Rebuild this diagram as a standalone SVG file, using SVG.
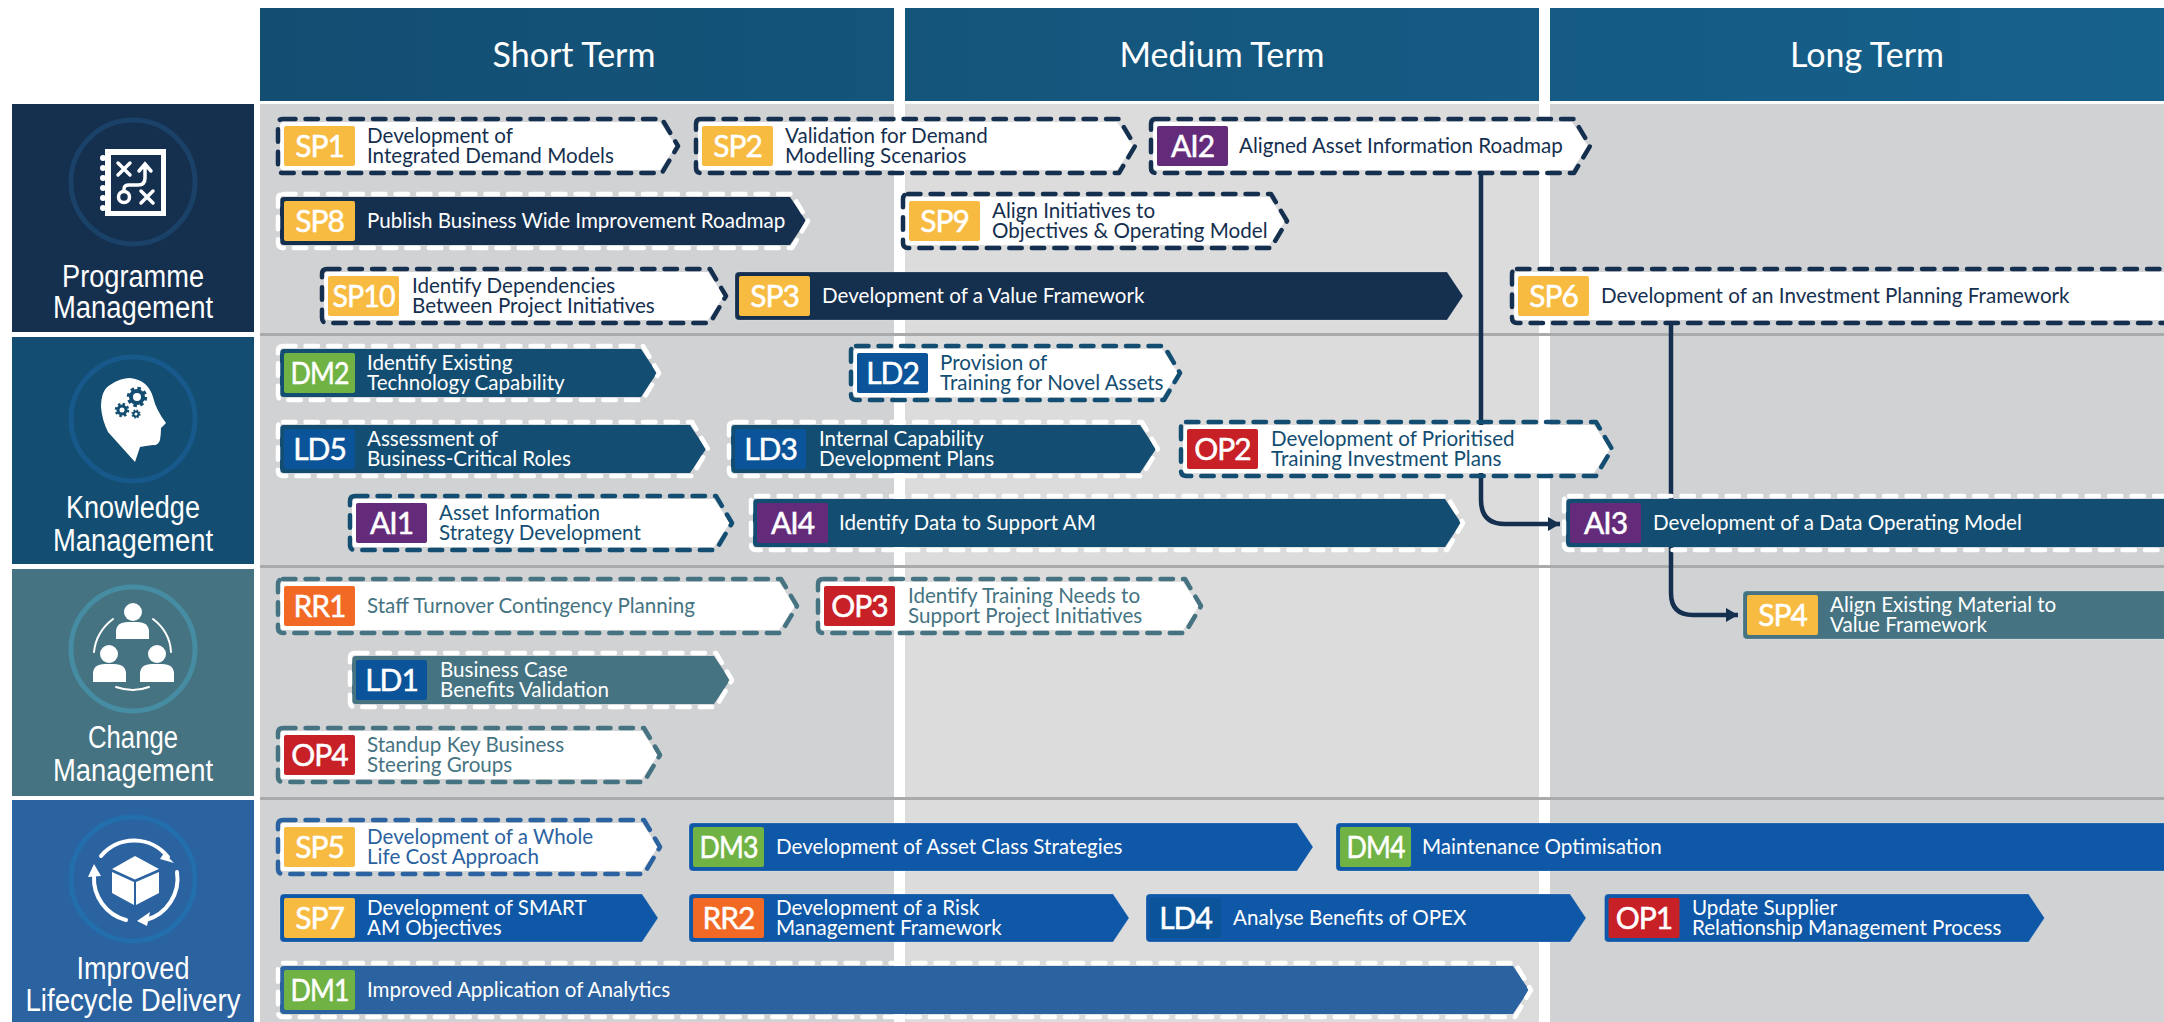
<svg xmlns="http://www.w3.org/2000/svg" width="2164" height="1022" viewBox="0 0 2164 1022">
<style>
text{font-family:Lato,"Open Sans","Liberation Sans",sans-serif}
.hd{fill:#fff;font-size:34px;text-anchor:middle}
.pl{fill:#fff;font-family:"Liberation Sans",Arial,sans-serif;font-size:31px;text-anchor:middle}
.bt{fill:#fff;font-size:30px;text-anchor:middle;letter-spacing:-1px;stroke:#fff;stroke-width:.5}
.lb{font-size:20.6px}
.w{fill:#fff}
.ring{fill:none;stroke-width:5}
.dash{fill:none;stroke-width:4.5;stroke-dasharray:12.5 10;stroke-linecap:round;stroke-linejoin:round}
.edge{stroke:#fff;stroke-opacity:.18;stroke-width:1}
.sp{fill:#f7bb41}.dm{fill:#70b244}.ld{fill:#0c5499}.ai{fill:#652b7b}.op{fill:#c82027}.rr{fill:#f26825}
.f1{fill:#152f4f}.f2{fill:#134e72}.f3{fill:#457382}.f4{fill:#2b62a0}.f5{fill:#0f58a8}
.s1{stroke:#152f4f}.s2{stroke:#134e72}.s3{stroke:#457382}.s4{stroke:#2b62a0}.sw{stroke:#fff}
.conn{fill:none;stroke:#152f4f;stroke-width:4.5;marker-end:url(#ah)}
.ln{fill:none;stroke:#fff;stroke-linecap:round}
</style>
<defs>
<marker id="ah" markerUnits="userSpaceOnUse" markerWidth="14" markerHeight="16" refX="13" refY="8" orient="auto"><path d="M1 1L13 8L1 15Z" fill="#152f4f"/></marker>
<linearGradient id="hg" gradientUnits="userSpaceOnUse" x1="260" y1="0" x2="2164" y2="0"><stop offset="0" stop-color="#134e72"/><stop offset="1" stop-color="#16618c"/></linearGradient>
</defs>
<rect width="2164" height="1022" fill="#fff"/>
<g id="grid">
<rect x="260" y="104" width="634" height="918" fill="#d1d2d4"/>
<rect x="905" y="104" width="634" height="918" fill="#dcdcdc"/>
<rect x="1550" y="104" width="614" height="918" fill="#d1d2d4"/>
<rect x="260" y="333" width="1904" height="3" fill="#a9aaac"/>
<rect x="260" y="565" width="1904" height="3" fill="#a9aaac"/>
<rect x="260" y="797" width="1904" height="3" fill="#a9aaac"/>
</g>
<g id="header-short"><rect x="260" y="8" width="634" height="93" fill="url(#hg)"/><text class="hd" x="574" y="67">Short Term</text></g>
<g id="header-medium"><rect x="905" y="8" width="634" height="93" fill="url(#hg)"/><text class="hd" x="1222" y="67">Medium Term</text></g>
<g id="header-long"><rect x="1550" y="8" width="614" height="93" fill="url(#hg)"/><text class="hd" x="1867" y="67">Long Term</text></g>

<g id="lane-programme">
<rect class="f1" x="12" y="104" width="242" height="228"/>
<circle class="ring" cx="133" cy="182" r="62" stroke="#1a4268"/>
<rect class="w" x="105" y="149" width="61" height="67"/><rect class="f1" x="111" y="155" width="50" height="56"/>
<g class="w"><circle cx="103" cy="158" r="3"/><circle cx="103" cy="168" r="3"/><circle cx="103" cy="178" r="3"/><circle cx="103" cy="188" r="3"/><circle cx="103" cy="198" r="3"/><circle cx="103" cy="208" r="3"/></g>
<path class="ln" stroke-width="3.5" d="M118 163L130 175M130 163L118 175M141 191L153 203M153 191L141 203"/>
<circle cx="124" cy="197" r="5.5" fill="none" stroke="#fff" stroke-width="3.5"/>
<path class="ln" stroke-width="3.5" d="M124 191V189Q124 185 129 185H138Q145 185 145 178V165M139 171L145 164L151 171"/>
<text class="pl" x="133" y="287" textLength="142" lengthAdjust="spacingAndGlyphs">Programme</text><text class="pl" x="133" y="318" textLength="160" lengthAdjust="spacingAndGlyphs">Management</text>
</g>
<g id="lane-knowledge">
<rect class="f2" x="12" y="337" width="242" height="227"/>
<circle class="ring" cx="133" cy="419" r="62" stroke="#17598a"/>
<path class="w" d="M135 462L108 432Q102 420 101 407Q101 390 110 385Q120 378 130 378Q148 380 153 397Q156 410 166 423L161 428Q161 434 160 440Q158 446 153 445Q145 446 140 447Z"/>
<g fill="none" stroke="#134e72">
<circle cx="137" cy="397" r="6" stroke-width="4"/><circle cx="137" cy="397" r="8.5" stroke-width="3.5" stroke-dasharray="3.4 3.3"/>
<circle cx="122" cy="410" r="4" stroke-width="3"/><circle cx="122" cy="410" r="6" stroke-width="2.5" stroke-dasharray="2.4 2.3"/>
<circle cx="136" cy="414" r="2.5" stroke-width="2"/><circle cx="136" cy="414" r="3.8" stroke-width="1.6" stroke-dasharray="1.5 1.5"/>
</g>
<text class="pl" x="133" y="518" textLength="134" lengthAdjust="spacingAndGlyphs">Knowledge</text><text class="pl" x="133" y="551" textLength="160" lengthAdjust="spacingAndGlyphs">Management</text>
</g>
<g id="lane-change">
<rect class="f3" x="12" y="569" width="242" height="227"/>
<circle class="ring" cx="133" cy="649" r="62" stroke="#468ca3"/>
<g class="w">
<circle cx="133" cy="612" r="9"/><path d="M116 639V632Q116 622 128 622H137Q149 622 149 632V639Z"/>
<circle cx="109" cy="654" r="9"/><path d="M93 682V674Q93 664 105 664H114Q126 664 126 674V682Z"/>
<circle cx="157" cy="654" r="9"/><path d="M140 682V674Q140 664 152 664H162Q174 664 174 674V682Z"/>
</g>
<path class="ln" stroke-width="2" d="M113 619Q96 632 94 652M153 619Q170 632 171 652M116 687Q133 693 149 687"/>
<text class="pl" x="133" y="748" textLength="90" lengthAdjust="spacingAndGlyphs">Change</text><text class="pl" x="133" y="781" textLength="160" lengthAdjust="spacingAndGlyphs">Management</text>
</g>
<g id="lane-lifecycle">
<rect class="f4" x="12" y="800" width="242" height="222"/>
<circle class="ring" cx="133" cy="879" r="62" stroke="#236ead"/>
<g class="w">
<path d="M135 856L159 869L135 879.5L112 869Z"/><path d="M112 872L134 882V905L112 893Z"/><path d="M159 872L136 882V905L159 893Z"/>
<path d="M164 853L174 863L160 859Z"/><path d="M137 921L150 912L147 926Z"/><path d="M94 864L88 877L101 876Z"/>
</g>
<path class="ln" stroke-width="4" d="M101 856A43 43 0 0 1 168 857M177 872A43 43 0 0 1 146 920M126 920A43 43 0 0 1 94 876"/>
<text class="pl" x="133" y="979" textLength="113" lengthAdjust="spacingAndGlyphs">Improved</text><text class="pl" x="133" y="1011" textLength="215" lengthAdjust="spacingAndGlyphs">Lifecycle Delivery</text>
</g>

<g id="connectors">
<path class="conn" d="M1481 172V500Q1481 524 1505 524H1560"/>
<path class="conn" d="M1671 322V593Q1671 615 1693 615H1738"/>
</g>

<g id="SP1" transform="translate(284 146)"><path class="w" d="M0-24H376L392 0L376 24H0Q-4 24-4 20V-20Q-4-24 0-24Z"/><path class="dash s1" d="M-1-27H378L394 0L378 27H-1Q-6 27-6 22V-22Q-6-27-1-27Z"/><rect class="sp" width="71" height="40" y="-20" rx="2"/><text class="bt" x="35.5" y="11">SP1</text><text class="lb f1" x="83" y="-3">Development of</text><text class="lb f1" x="83" y="17">Integrated Demand Models</text></g>
<g id="SP2" transform="translate(702 146)"><path class="w" d="M0-24H415L431 0L415 24H0Q-4 24-4 20V-20Q-4-24 0-24Z"/><path class="dash s1" d="M-1-27H417L433 0L417 27H-1Q-6 27-6 22V-22Q-6-27-1-27Z"/><rect class="sp" width="71" height="40" y="-20" rx="2"/><text class="bt" x="35.5" y="11">SP2</text><text class="lb f1" x="83" y="-3">Validation for Demand</text><text class="lb f1" x="83" y="17">Modelling Scenarios</text></g>
<g id="AI2" transform="translate(1157 146)"><path class="w" d="M0-24H415L431 0L415 24H0Q-4 24-4 20V-20Q-4-24 0-24Z"/><path class="dash s1" d="M-1-27H417L433 0L417 27H-1Q-6 27-6 22V-22Q-6-27-1-27Z"/><rect class="ai" width="71" height="40" y="-20" rx="2"/><text class="bt" x="35.5" y="11">AI2</text><text class="lb f1" x="82" y="7">Aligned Asset Information Roadmap</text></g>
<g id="SP8" transform="translate(284 221)"><path class="f1" d="M0-24H506L522 0L506 24H0Q-4 24-4 20V-20Q-4-24 0-24Z"/><path class="dash sw" d="M-1-27H508L524 0L508 27H-1Q-6 27-6 22V-22Q-6-27-1-27Z"/><rect class="sp" width="71" height="40" y="-20" rx="2"/><text class="bt" x="35.5" y="11">SP8</text><text class="lb w" x="83" y="7">Publish Business Wide Improvement Roadmap</text></g>
<g id="SP9" transform="translate(909 221)"><path class="w" d="M0-24H360L376 0L360 24H0Q-4 24-4 20V-20Q-4-24 0-24Z"/><path class="dash s1" d="M-1-27H362L378 0L362 27H-1Q-6 27-6 22V-22Q-6-27-1-27Z"/><rect class="sp" width="71" height="40" y="-20" rx="2"/><text class="bt" x="35.5" y="11">SP9</text><text class="lb f1" x="83" y="-3">Align Initiatives to</text><text class="lb f1" x="83" y="17">Objectives &amp; Operating Model</text></g>
<g id="SP10" transform="translate(328 296)"><path class="w" d="M0-24H380L396 0L380 24H0Q-4 24-4 20V-20Q-4-24 0-24Z"/><path class="dash s1" d="M-1-27H382L398 0L382 27H-1Q-6 27-6 22V-22Q-6-27-1-27Z"/><rect class="sp" width="71" height="40" y="-20" rx="2"/><text class="bt" x="35.5" y="11" textLength="62" lengthAdjust="spacingAndGlyphs">SP10</text><text class="lb f1" x="84" y="-3">Identify Dependencies</text><text class="lb f1" x="84" y="17">Between Project Initiatives</text></g>
<g id="SP3" transform="translate(739 296)"><path class="f1 edge" d="M0-24H708L724 0L708 24H0Q-4 24-4 20V-20Q-4-24 0-24Z"/><rect class="sp" width="71" height="40" y="-20" rx="2"/><text class="bt" x="35.5" y="11">SP3</text><text class="lb w" x="83" y="7">Development of a Value Framework</text></g>
<g id="SP6" transform="translate(1518 296)"><path class="w" d="M0-24H700V24H0Q-4 24-4 20V-20Q-4-24 0-24Z"/><path class="dash s1" d="M-1-27H700M700 27H-1Q-6 27-6 22V-22Q-6-27-1-27"/><rect class="sp" width="71" height="40" y="-20" rx="2"/><text class="bt" x="35.5" y="11">SP6</text><text class="lb f1" x="83" y="7">Development of an Investment Planning Framework</text></g>

<g id="DM2" transform="translate(284 373)"><path class="f2" d="M0-24H357L373 0L357 24H0Q-4 24-4 20V-20Q-4-24 0-24Z"/><path class="dash sw" d="M-1-27H359L375 0L359 27H-1Q-6 27-6 22V-22Q-6-27-1-27Z"/><rect class="dm" width="71" height="40" y="-20" rx="2"/><text class="bt" x="35.5" y="11" textLength="58" lengthAdjust="spacingAndGlyphs">DM2</text><text class="lb w" x="83" y="-3">Identify Existing</text><text class="lb w" x="83" y="17">Technology Capability</text></g>
<g id="LD2" transform="translate(857 373)"><path class="w" d="M0-24H305L321 0L305 24H0Q-4 24-4 20V-20Q-4-24 0-24Z"/><path class="dash s2" d="M-1-27H307L323 0L307 27H-1Q-6 27-6 22V-22Q-6-27-1-27Z"/><rect class="ld" width="71" height="40" y="-20" rx="2"/><text class="bt" x="35.5" y="11">LD2</text><text class="lb f2" x="83" y="-3">Provision of</text><text class="lb f2" x="83" y="17">Training for Novel Assets</text></g>
<g id="LD5" transform="translate(284 449)"><path class="f2" d="M0-24H406L422 0L406 24H0Q-4 24-4 20V-20Q-4-24 0-24Z"/><path class="dash sw" d="M-1-27H408L424 0L408 27H-1Q-6 27-6 22V-22Q-6-27-1-27Z"/><rect class="ld" width="71" height="40" y="-20" rx="2"/><text class="bt" x="35.5" y="11">LD5</text><text class="lb w" x="83" y="-3">Assessment of</text><text class="lb w" x="83" y="17">Business-Critical Roles</text></g>
<g id="LD3" transform="translate(735 449)"><path class="f2" d="M0-24H405L421 0L405 24H0Q-4 24-4 20V-20Q-4-24 0-24Z"/><path class="dash sw" d="M-1-27H407L423 0L407 27H-1Q-6 27-6 22V-22Q-6-27-1-27Z"/><rect class="ld" width="71" height="40" y="-20" rx="2"/><text class="bt" x="35.5" y="11">LD3</text><text class="lb w" x="84" y="-3">Internal Capability</text><text class="lb w" x="84" y="17">Development Plans</text></g>
<g id="OP2" transform="translate(1187 449)"><path class="w" d="M0-24H407L423 0L407 24H0Q-4 24-4 20V-20Q-4-24 0-24Z"/><path class="dash s2" d="M-1-27H409L425 0L409 27H-1Q-6 27-6 22V-22Q-6-27-1-27Z"/><rect class="op" width="71" height="40" y="-20" rx="2"/><text class="bt" x="35.5" y="11">OP2</text><text class="lb f2" x="84" y="-3">Development of Prioritised</text><text class="lb f2" x="84" y="17">Training Investment Plans</text></g>
<g id="AI1" transform="translate(356 523)"><path class="w" d="M0-24H358L374 0L358 24H0Q-4 24-4 20V-20Q-4-24 0-24Z"/><path class="dash s2" d="M-1-27H360L376 0L360 27H-1Q-6 27-6 22V-22Q-6-27-1-27Z"/><rect class="ai" width="71" height="40" y="-20" rx="2"/><text class="bt" x="35.5" y="11">AI1</text><text class="lb f2" x="83" y="-3">Asset Information</text><text class="lb f2" x="83" y="17">Strategy Development</text></g>
<g id="AI4" transform="translate(757 523)"><path class="f2" d="M0-24H688L704 0L688 24H0Q-4 24-4 20V-20Q-4-24 0-24Z"/><path class="dash sw" d="M-1-27H690L706 0L690 27H-1Q-6 27-6 22V-22Q-6-27-1-27Z"/><rect class="ai" width="71" height="40" y="-20" rx="2"/><text class="bt" x="35.5" y="11">AI4</text><text class="lb w" x="82" y="7">Identify Data to Support AM</text></g>
<g id="AI3" transform="translate(1570 523)"><path class="f2" d="M0-24H700V24H0Q-4 24-4 20V-20Q-4-24 0-24Z"/><path class="dash sw" d="M-1-27H700M700 27H-1Q-6 27-6 22V-22Q-6-27-1-27"/><rect class="ai" width="71" height="40" y="-20" rx="2"/><text class="bt" x="35.5" y="11">AI3</text><text class="lb w" x="83" y="7">Development of a Data Operating Model</text></g>

<g id="RR1" transform="translate(284 606)"><path class="w" d="M0-24H495L511 0L495 24H0Q-4 24-4 20V-20Q-4-24 0-24Z"/><path class="dash s3" d="M-1-27H497L513 0L497 27H-1Q-6 27-6 22V-22Q-6-27-1-27Z"/><rect class="rr" width="71" height="40" y="-20" rx="2"/><text class="bt" x="35.5" y="11">RR1</text><text class="lb f3" x="83" y="7">Staff Turnover Contingency Planning</text></g>
<g id="OP3" transform="translate(824 606)"><path class="w" d="M0-24H359L375 0L359 24H0Q-4 24-4 20V-20Q-4-24 0-24Z"/><path class="dash s3" d="M-1-27H361L377 0L361 27H-1Q-6 27-6 22V-22Q-6-27-1-27Z"/><rect class="op" width="71" height="40" y="-20" rx="2"/><text class="bt" x="35.5" y="11">OP3</text><text class="lb f3" x="84" y="-3">Identify Training Needs to</text><text class="lb f3" x="84" y="17">Support Project Initiatives</text></g>
<g id="SP4" transform="translate(1747 615)"><path class="f3 edge" d="M0-24H500V24H0Q-4 24-4 20V-20Q-4-24 0-24Z"/><rect class="sp" width="71" height="40" y="-20" rx="2"/><text class="bt" x="35.5" y="11">SP4</text><text class="lb w" x="83" y="-3">Align Existing Material to</text><text class="lb w" x="83" y="17">Value Framework</text></g>
<g id="LD1" transform="translate(356 680)"><path class="f3" d="M0-24H358L374 0L358 24H0Q-4 24-4 20V-20Q-4-24 0-24Z"/><path class="dash sw" d="M-1-27H360L376 0L360 27H-1Q-6 27-6 22V-22Q-6-27-1-27Z"/><rect class="ld" width="71" height="40" y="-20" rx="2"/><text class="bt" x="35.5" y="11">LD1</text><text class="lb w" x="84" y="-3">Business Case</text><text class="lb w" x="84" y="17">Benefits Validation</text></g>
<g id="OP4" transform="translate(284 755)"><path class="w" d="M0-24H358L374 0L358 24H0Q-4 24-4 20V-20Q-4-24 0-24Z"/><path class="dash s3" d="M-1-27H360L376 0L360 27H-1Q-6 27-6 22V-22Q-6-27-1-27Z"/><rect class="op" width="71" height="40" y="-20" rx="2"/><text class="bt" x="35.5" y="11">OP4</text><text class="lb f3" x="83" y="-3">Standup Key Business</text><text class="lb f3" x="83" y="17">Steering Groups</text></g>

<g id="SP5" transform="translate(284 847)"><path class="w" d="M0-24H358L374 0L358 24H0Q-4 24-4 20V-20Q-4-24 0-24Z"/><path class="dash s4" d="M-1-27H360L376 0L360 27H-1Q-6 27-6 22V-22Q-6-27-1-27Z"/><rect class="sp" width="71" height="40" y="-20" rx="2"/><text class="bt" x="35.5" y="11">SP5</text><text class="lb f4" x="83" y="-3">Development of a Whole</text><text class="lb f4" x="83" y="17">Life Cost Approach</text></g>
<g id="DM3" transform="translate(693 847)"><path class="f5 edge" d="M0-24H604L620 0L604 24H0Q-4 24-4 20V-20Q-4-24 0-24Z"/><rect class="dm" width="71" height="40" y="-20" rx="2"/><text class="bt" x="35.5" y="11" textLength="58" lengthAdjust="spacingAndGlyphs">DM3</text><text class="lb w" x="83" y="7">Development of Asset Class Strategies</text></g>
<g id="DM4" transform="translate(1340 847)"><path class="f5 edge" d="M0-24H900V24H0Q-4 24-4 20V-20Q-4-24 0-24Z"/><rect class="dm" width="71" height="40" y="-20" rx="2"/><text class="bt" x="35.5" y="11" textLength="58" lengthAdjust="spacingAndGlyphs">DM4</text><text class="lb w" x="82" y="7">Maintenance Optimisation</text></g>
<g id="SP7" transform="translate(284 918)"><path class="f5 edge" d="M0-24H358L374 0L358 24H0Q-4 24-4 20V-20Q-4-24 0-24Z"/><rect class="sp" width="71" height="40" y="-20" rx="2"/><text class="bt" x="35.5" y="11">SP7</text><text class="lb w" x="83" y="-3">Development of SMART</text><text class="lb w" x="83" y="17">AM Objectives</text></g>
<g id="RR2" transform="translate(693 918)"><path class="f5 edge" d="M0-24H420L436 0L420 24H0Q-4 24-4 20V-20Q-4-24 0-24Z"/><rect class="rr" width="71" height="40" y="-20" rx="2"/><text class="bt" x="35.5" y="11">RR2</text><text class="lb w" x="83" y="-3">Development of a Risk</text><text class="lb w" x="83" y="17">Management Framework</text></g>
<g id="LD4" transform="translate(1150 918)"><path class="f5 edge" d="M0-24H420L436 0L420 24H0Q-4 24-4 20V-20Q-4-24 0-24Z"/><rect class="ld" width="71" height="40" y="-20" rx="2"/><text class="bt" x="35.5" y="11">LD4</text><text class="lb w" x="83" y="7">Analyse Benefits of OPEX</text></g>
<g id="OP1" transform="translate(1608.5 918)"><path class="f5 edge" d="M0-24H420L436 0L420 24H0Q-4 24-4 20V-20Q-4-24 0-24Z"/><rect class="op" width="71" height="40" y="-20" rx="2"/><text class="bt" x="35.5" y="11">OP1</text><text class="lb w" x="83.5" y="-3">Update Supplier</text><text class="lb w" x="83.5" y="17">Relationship Management Process</text></g>
<g id="DM1" transform="translate(284 990)"><path class="f4" d="M0-24H1229L1245 0L1229 24H0Q-4 24-4 20V-20Q-4-24 0-24Z"/><path class="dash sw" d="M-1-27H1231L1247 0L1231 27H-1Q-6 27-6 22V-22Q-6-27-1-27Z"/><rect class="dm" width="71" height="40" y="-20" rx="2"/><text class="bt" x="35.5" y="11" textLength="58" lengthAdjust="spacingAndGlyphs">DM1</text><text class="lb w" x="83" y="7">Improved Application of Analytics</text></g>
</svg>
